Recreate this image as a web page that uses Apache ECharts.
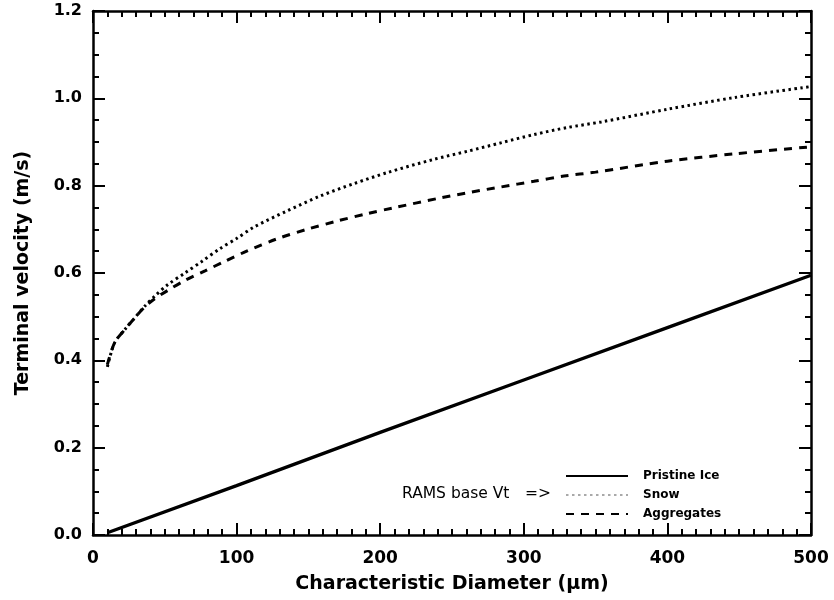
<!DOCTYPE html>
<html>
<head>
<meta charset="utf-8">
<script src="https://cdn.jsdelivr.net/npm/echarts@6/dist/echarts.min.js"></script>
<style>html,body{margin:0;padding:0;background:#fff}#c{width:834px;height:600px}</style>
</head>
<body>
<div id="c"></div>
<script>
// Characteristic diameter (µm) / terminal velocity (m/s)
var pristineD = [10, 100, 200, 300, 400, 500];
var pristineV = [0.005, 0.113, 0.235, 0.355, 0.475, 0.595];

var snowD = [10, 15, 22, 29, 36, 43, 52, 64, 76, 88, 100, 112, 135, 158, 182, 205, 237, 261, 284, 307, 330, 354, 400, 447, 500];
var snowV = [0.385, 0.44, 0.47, 0.497, 0.524, 0.547, 0.573, 0.600, 0.627, 0.655, 0.679, 0.705, 0.742, 0.776, 0.805, 0.830, 0.860, 0.879, 0.898, 0.917, 0.933, 0.946, 0.975, 1.002, 1.027];

var aggD = [10, 15, 22, 29, 36, 43, 52, 64, 78, 92, 107, 128, 149, 170, 191, 209, 242, 263, 284, 307, 328, 350, 400, 447, 500];
var aggV = [0.39, 0.44, 0.47, 0.497, 0.522, 0.541, 0.560, 0.583, 0.605, 0.627, 0.650, 0.678, 0.700, 0.719, 0.736, 0.749, 0.772, 0.785, 0.797, 0.810, 0.822, 0.831, 0.856, 0.873, 0.889];

var xTicks = [0, 100, 200, 300, 400, 500];
var yTicks = [0.0, 0.2, 0.4, 0.6, 0.8, 1.0, 1.2];

function pairs(xs, ys) { return xs.map(function (x, i) { return [x, ys[i]]; }); }

var chart = echarts.init(document.getElementById('c'), null, {renderer: 'canvas'});
var FONT = '"DejaVu Sans"';
var axisLine = {show: true, onZero: false, lineStyle: {color: '#000', width: 2.5}};
function xAx(pos, showLabel) {
  return {
    type: 'value', position: pos, min: xTicks[0], max: xTicks[xTicks.length - 1], interval: 100,
    axisLine: axisLine,
    axisTick: {show: true, inside: true, length: 12, lineStyle: {color: '#000', width: 2}},
    minorTick: {show: true, splitNumber: 10, length: 6, lineStyle: {color: '#000', width: 2}},
    splitLine: {show: false},
    axisLabel: {show: showLabel, color: '#000', fontFamily: FONT, fontWeight: 'bold', fontSize: 17, margin: 15},
    name: showLabel ? 'Characteristic Diameter (\u03bcm)' : '',
    nameLocation: 'middle', nameGap: 40,
    nameTextStyle: {color: '#000', fontFamily: FONT, fontWeight: 'bold', fontSize: 19}
  };
}
function yAx(pos, showLabel) {
  return {
    type: 'value', position: pos, min: yTicks[0], max: yTicks[yTicks.length - 1], interval: 0.2,
    axisLine: axisLine,
    axisTick: {show: true, inside: true, length: 12, lineStyle: {color: '#000', width: 2}},
    minorTick: {show: true, splitNumber: 4, length: 6, lineStyle: {color: '#000', width: 2}},
    splitLine: {show: false},
    axisLabel: {show: showLabel, color: '#000', fontFamily: FONT, fontWeight: 'bold', fontSize: 16, margin: 11,
      formatter: function (v) { return v.toFixed(1); }},
    name: showLabel ? 'Terminal velocity (m/s)' : '',
    nameLocation: 'middle', nameGap: 60,
    nameTextStyle: {color: '#000', fontFamily: FONT, fontWeight: 'bold', fontSize: 19}
  };
}

chart.setOption({
  animation: false,
  backgroundColor: '#fff',
  grid: {left: 93, right: 23, top: 11, bottom: 65, containLabel: false},
  xAxis: [xAx('bottom', true), xAx('top', false)],
  yAxis: [yAx('left', true), yAx('right', false)],
  legend: {
    orient: 'vertical', left: 565, top: 470, padding: 0, itemWidth: 62, itemHeight: 14, itemGap: 7,
    itemStyle: {opacity: 0},
    textStyle: {color: '#000', fontFamily: FONT, fontWeight: 'bold', fontSize: 12, padding: [0, 0, 0, 10]},
    data: [
      {name: 'Pristine Ice'},
      {name: 'Snow', lineStyle: {width: 1.2, color: '#555'}},
      {name: 'Aggregates'}
    ]
  },
  graphic: [
    {type: 'text', left: 402, top: 486, style: {text: 'RAMS base Vt', fill: '#000', font: '15.5px "DejaVu Sans"'}},
    {type: 'text', left: 525, top: 486, style: {text: '=>', fill: '#000', font: '15.5px "DejaVu Sans"'}}
  ],
  series: [
    {name: 'Pristine Ice', type: 'line', symbol: 'none', data: pairs(pristineD, pristineV),
      lineStyle: {color: '#000', width: 3.3}, itemStyle: {color: '#000'}},
    {name: 'Snow', type: 'line', symbol: 'none', smooth: 0.3, data: pairs(snowD, snowV),
      lineStyle: {color: '#000', width: 3, type: [2.5, 3.5]}, itemStyle: {color: '#000'}},
    {name: 'Aggregates', type: 'line', symbol: 'none', smooth: 0.3, data: pairs(aggD, aggV),
      lineStyle: {color: '#000', width: 3, type: [8, 7]}, itemStyle: {color: '#000'}}
  ]
});
</script>
</body>
</html>
